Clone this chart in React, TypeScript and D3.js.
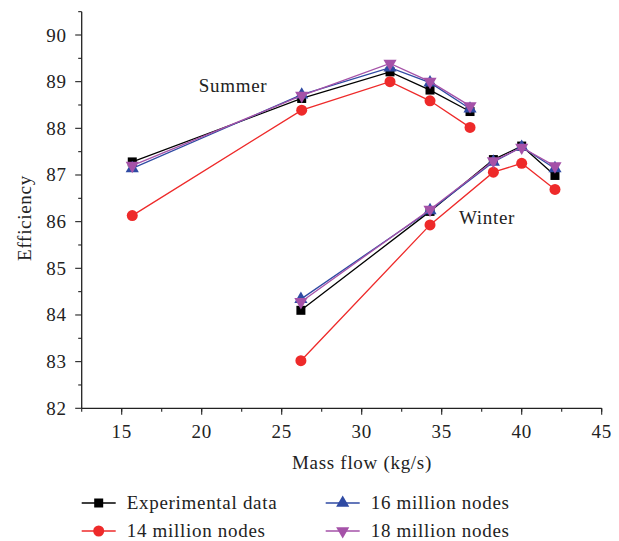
import React from "react";
import * as d3 from "d3";

const summerX = [15.66, 26.25, 31.77, 34.27, 36.77];
const winterX = [26.2, 34.27, 38.23, 40.0, 42.08];

const seriesNames = ["Experimental data", "14 million nodes", "16 million nodes", "18 million nodes"];
const summerExp = [87.28, 88.64, 89.21, 88.82, 88.36];
const winterExp = [84.1, 86.22, 87.33, 87.62, 86.99];
const summer14 = [86.13, 88.39, 89.0, 88.59, 88.02];
const winter14 = [83.02, 85.93, 87.06, 87.25, 86.69];
const summer16 = [87.14, 88.72, 89.3, 88.98, 88.42];
const winter16 = [84.34, 86.24, 87.28, 87.6, 87.14];
const summer18 = [87.2, 88.7, 89.39, 89.0, 88.48];
const winter18 = [84.28, 86.26, 87.3, 87.59, 87.19];

const xTicks = [15, 20, 25, 30, 35, 40, 45];
const yTicks = [82, 83, 84, 85, 86, 87, 88, 89, 90];

const colors = ["#000000", "#ee2a2a", "#2f4aa3", "#a552a8"];
const markers = ["square", "circle", "triangle", "triangleDown"];

const FONT = "'Liberation Serif', 'Times New Roman', serif";
const FS = 19;
const LS = 0.7;

function Marker({ type, x, y, color }: { type: string; x: number; y: number; color: string }) {
  if (type === "square") return <rect x={x - 4.5} y={y - 4.5} width={9} height={9} fill={color} />;
  if (type === "circle") return <circle cx={x} cy={y} r={5.5} fill={color} />;
  const sym = d3.symbol().type(d3.symbolTriangle).size(75)();
  return (
    <path
      d={sym || ""}
      transform={`translate(${x},${y})${type === "triangleDown" ? " rotate(180)" : ""}`}
      fill={color}
    />
  );
}

export default function App() {
  const x = d3.scaleLinear().domain([12.5, 45]).range([81.7, 601.7]);
  const y = d3.scaleLinear().domain([82, 90]).range([408.3, 35]);
  const yTop = y(90.5);
  const minorX = d3.range(12.5, 45.01, 2.5);
  const minorY = d3.range(82.5, 90.51, 1);

  const series = [
    [summerExp, winterExp],
    [summer14, winter14],
    [summer16, winter16],
    [summer18, winter18],
  ];
  const line = d3
    .line<[number, number]>()
    .x((d) => x(d[0]))
    .y((d) => y(d[1]));

  const legend = [
    { col: 0, row: 0 },
    { col: 0, row: 1 },
    { col: 1, row: 0 },
    { col: 1, row: 1 },
  ];
  const legX = [81.7, 325.7];
  const legY = [503, 531];

  return (
    <svg
      width={619}
      height={541}
      style={{ position: "absolute", left: 0, top: 0, background: "#fff" }}
      fontFamily={FONT}
      letterSpacing={LS}
    >
      {/* axes */}
      <line x1={x(12.5)} x2={x(12.5)} y1={yTop} y2={y(82)} stroke="#222" strokeWidth={1.3} />
      <line x1={x(12.5)} x2={x(45)} y1={y(82)} y2={y(82)} stroke="#222" strokeWidth={1.3} />
      {minorX.map((v) => (
        <line key={"mx" + v} x1={x(v)} x2={x(v)} y1={y(82)} y2={y(82) + 3.5} stroke="#222" strokeWidth={1.1} />
      ))}
      {xTicks.map((v) => (
        <g key={"x" + v}>
          <line x1={x(v)} x2={x(v)} y1={y(82)} y2={y(82) + 6.5} stroke="#222" strokeWidth={1.1} />
          <text x={x(v)} y={y(82) + 30} textAnchor="middle" fontSize={FS} fill="#222">
            {v}
          </text>
        </g>
      ))}
      {minorY.map((v) => (
        <line key={"my" + v} x1={x(12.5) - 3.5} x2={x(12.5)} y1={y(v)} y2={y(v)} stroke="#222" strokeWidth={1.1} />
      ))}
      {yTicks.map((v) => (
        <g key={"y" + v}>
          <line x1={x(12.5) - 6.5} x2={x(12.5)} y1={y(v)} y2={y(v)} stroke="#222" strokeWidth={1.1} />
          <text x={x(12.5) - 15} y={y(v) + 6.5} textAnchor="end" fontSize={FS} fill="#222">
            {v}
          </text>
        </g>
      ))}
      <text x={362} y={469} textAnchor="middle" fontSize={FS} fill="#222">
        Mass flow (kg/s)
      </text>
      <text transform="translate(31,218) rotate(-90)" textAnchor="middle" fontSize={FS} fill="#222">
        Efficiency
      </text>

      {/* series */}
      {series.map((s, i) => (
        <g key={"s" + i}>
          {[summerX, winterX].map((xs, k) => (
            <path
              key={k}
              d={line(xs.map((xv, j) => [xv, s[k][j]] as [number, number])) || ""}
              fill="none"
              stroke={colors[i]}
              strokeWidth={1.3}
            />
          ))}
          {[summerX, winterX].map((xs, k) =>
            xs.map((xv, j) => (
              <Marker key={k + "-" + j} type={markers[i]} x={x(xv)} y={y(s[k][j])} color={colors[i]} />
            ))
          )}
        </g>
      ))}

      <text x={233} y={92} textAnchor="middle" fontSize={FS} fill="#222">
        Summer
      </text>
      <text x={487} y={224} textAnchor="middle" fontSize={FS} fill="#222">
        Winter
      </text>

      {/* legend */}
      {seriesNames.map((name, i) => {
        const lx = legX[legend[i].col];
        const ly = legY[legend[i].row];
        return (
          <g key={"l" + i}>
            <line x1={lx} x2={lx + 34} y1={ly} y2={ly} stroke={colors[i]} strokeWidth={1.3} />
            <Marker type={markers[i]} x={lx + 17} y={ly} color={colors[i]} />
            <text x={lx + 45} y={ly + 6} fontSize={FS} fill="#222">
              {name}
            </text>
          </g>
        );
      })}
    </svg>
  );
}
